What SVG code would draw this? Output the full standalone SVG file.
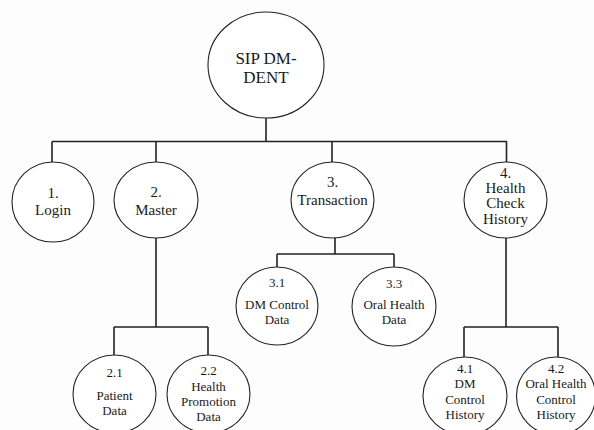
<svg xmlns="http://www.w3.org/2000/svg" width="594" height="430" viewBox="0 0 594 430">
<style>
.n{fill:#fff;stroke:#222;stroke-width:1.1}
.c{fill:none;stroke:#222;stroke-width:1.6}
text{font-family:"Liberation Serif","Times New Roman",serif;fill:#1a1a1a;text-anchor:middle}
.t0{font-size:17px}
.t1{font-size:15px}
.t2{font-size:13px}
</style>
<rect width="594" height="430" fill="#fdfdfd"/>
<g id="connectors">
<path class="c" d="M266 118V141.5M52 141.5H507M52 141.5V163M156 141.5V162M332 141.5V162M506.5 141.5V162"/>
<path class="c" d="M156 238V327M114 327H208M114 327V355M208 327V355"/>
<path class="c" d="M335 238V254M277 254H394M277 254V267M394 254V267"/>
<path class="c" d="M506 238V327M464 327H558M464 327V357M558 327V357"/>
</g>
<g id="n0"><ellipse class="n" cx="266" cy="65" rx="58" ry="53"/><text class="t0" x="266" y="64">SIP DM-</text><text class="t0" x="266" y="83">DENT</text></g>
<g id="n1"><ellipse class="n" cx="53" cy="202" rx="41" ry="40"/><text class="t1" x="53" y="198">1.</text><text class="t1" x="53" y="215">Login</text></g>
<g id="n2"><ellipse class="n" cx="156" cy="200" rx="42" ry="38"/><text class="t1" x="156" y="197">2.</text><text class="t1" x="156" y="215">Master</text></g>
<g id="n3"><ellipse class="n" cx="332.5" cy="200" rx="41.5" ry="38"/><text class="t1" x="332.5" y="187">3.</text><text class="t1" x="332.5" y="205">Transaction</text></g>
<g id="n4"><ellipse class="n" cx="505.5" cy="200" rx="41.5" ry="38"/><text class="t1" x="505.5" y="178">4.</text><text class="t1" x="505.5" y="193">Health</text><text class="t1" x="505.5" y="208">Check</text><text class="t1" x="505.5" y="224">History</text></g>
<g id="n21"><ellipse class="n" cx="114.5" cy="394" rx="41.5" ry="39"/><text class="t2" x="114.5" y="377">2.1</text><text class="t2" x="114.5" y="400">Patient</text><text class="t2" x="114.5" y="415">Data</text></g>
<g id="n22"><ellipse class="n" cx="208.5" cy="394" rx="41.5" ry="39"/><text class="t2" x="208.5" y="375">2.2</text><text class="t2" x="208.5" y="391">Health</text><text class="t2" x="208.5" y="406">Promotion</text><text class="t2" x="208.5" y="421">Data</text></g>
<g id="n31"><ellipse class="n" cx="277" cy="306" rx="41" ry="39"/><text class="t2" x="277" y="287">3.1</text><text class="t2" x="277" y="309">DM Control</text><text class="t2" x="277" y="324">Data</text></g>
<g id="n33"><ellipse class="n" cx="394" cy="306.5" rx="42" ry="39.5"/><text class="t2" x="394" y="288">3.3</text><text class="t2" x="394" y="309">Oral Health</text><text class="t2" x="394" y="324">Data</text></g>
<g id="n41"><ellipse class="n" cx="465" cy="396" rx="42" ry="39"/><text class="t2" x="465" y="373">4.1</text><text class="t2" x="465" y="388">DM</text><text class="t2" x="465" y="404">Control</text><text class="t2" x="465" y="419">History</text></g>
<g id="n42"><ellipse class="n" cx="556" cy="396" rx="39.5" ry="39"/><text class="t2" x="556" y="373">4.2</text><text class="t2" x="556" y="388">Oral Health</text><text class="t2" x="556" y="404">Control</text><text class="t2" x="556" y="419">History</text></g>
</svg>
